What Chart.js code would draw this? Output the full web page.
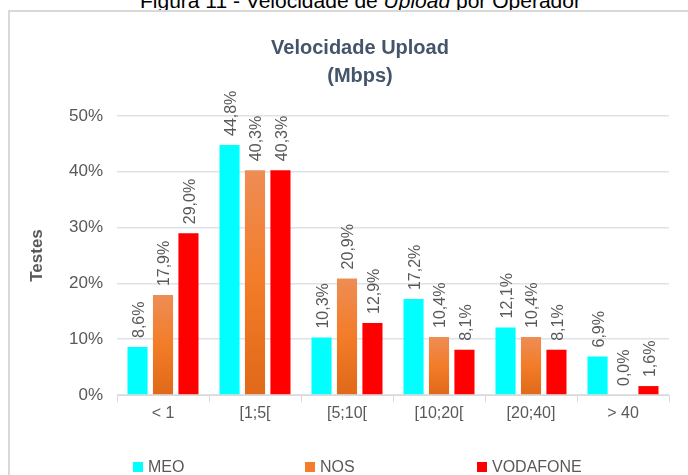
<!DOCTYPE html>
<html>
<head>
<meta charset="utf-8">
<script src="https://cdn.jsdelivr.net/npm/chart.js@4"></script>
<style>
  body { margin: 0; background: #fff; font-family: "Liberation Sans", Arial, sans-serif; }
  #wrap { position: relative; width: 688px; height: 475px; overflow: hidden; }
  #caption { position: absolute; top: -11px; left: 140px; width: 440px; text-align: center; font-size: 21px; color: #000; white-space: nowrap; }
  #frame { position: absolute; left: 8px; top: 10px; width: 700px; height: 500px; border-left: 2px solid #d9d9d9; border-top: 2px solid #d9d9d9; }
  #chart { position: absolute; left: 0; top: 0; }
  #legend { position: absolute; top: 458px; left: 0; width: 688px; font-size: 16px; color: #595959; }
  #legend span.item { position: absolute; white-space: nowrap; }
  #legend span.box { display: inline-block; width: 10px; height: 10px; margin-right: 5px; vertical-align: 0px; }
</style>
</head>
<body>
<div id="wrap">
  <div id="caption">Figura 11 - Velocidade de <i>Upload</i> por Operador</div>
  <div id="frame"></div>
  <canvas id="chart" width="688" height="475"></canvas>
  <div id="legend"></div>
</div>
<script>
const categories = ["< 1", "[1;5[", "[5;10[", "[10;20[", "[20;40]", "> 40"];
const seriesNames = ["MEO", "NOS", "VODAFONE"];
const meo = [8.6, 44.8, 10.3, 17.2, 12.1, 6.9];
const nos = [17.9, 40.3, 20.9, 10.4, 10.4, 0.0];
const vodafone = [29.0, 40.3, 12.9, 8.1, 8.1, 1.6];
const yTicks = [0, 10, 20, 30, 40, 50];

const textGray = "#595959";
const font = "'Liberation Sans', Arial, sans-serif";

function orangeFill(context) {
  const chart = context.chart;
  const y = chart.scales.y;
  if (!y || context.raw === undefined) return "#f47c2a";
  const top = y.getPixelForValue(context.raw);
  const bottom = y.getPixelForValue(0);
  if (!isFinite(top) || bottom - top < 1) return "#f47c2a";
  const g = chart.ctx.createLinearGradient(0, top, 0, bottom);
  g.addColorStop(0, "#ee8d55");
  g.addColorStop(0.5, "#f37c28");
  g.addColorStop(1, "#e0691a");
  return g;
}

// rotated value labels above each bar
const valueLabels = {
  id: "valueLabels",
  afterDatasetsDraw(chart) {
    const ctx = chart.ctx;
    ctx.save();
    ctx.fillStyle = textGray;
    ctx.font = "16px " + font;
    ctx.textAlign = "left";
    ctx.textBaseline = "middle";
    chart.data.datasets.forEach((ds, i) => {
      chart.getDatasetMeta(i).data.forEach((bar, j) => {
        const txt = ds.data[j].toFixed(1).replace(".", ",") + "%";
        ctx.save();
        ctx.translate(bar.x + 2, bar.y - 9);
        ctx.rotate(-Math.PI / 2);
        ctx.fillText(txt, 0, 0);
        ctx.restore();
      });
    });
    ctx.restore();
  }
};

const colors = ["#00ffff", "#f47c2a", "#ff0000"];

new Chart(document.getElementById("chart"), {
  type: "bar",
  data: {
    labels: categories,
    datasets: [
      { label: seriesNames[0], data: meo, backgroundColor: colors[0] },
      { label: seriesNames[1], data: nos, backgroundColor: orangeFill },
      { label: seriesNames[2], data: vodafone, backgroundColor: colors[2] }
    ]
  },
  options: {
    responsive: false,
    animation: false,
    datasets: { bar: { categoryPercentage: 0.83, barPercentage: 0.79 } },
    layout: { padding: { left: 51, right: 19, top: 0, bottom: 0 } },
    plugins: {
      legend: { display: false },
      tooltip: { enabled: false },
      title: {
        display: true,
        text: ["Velocidade Upload", "(Mbps)"],
        color: "#44546a",
        font: { family: font, size: 20, weight: "bold", lineHeight: 1.4 },
        padding: { top: 34, bottom: 26 }
      }
    },
    scales: {
      x: {
        afterFit(scale) { scale.height = 80; },
        grid: { drawOnChartArea: false, drawTicks: true, tickLength: 7, color: "#d9d9d9" },
        border: { display: true, color: "#d9d9d9" },
        ticks: { color: textGray, font: { family: font, size: 16 }, padding: 2 }
      },
      y: {
        min: 0,
        max: 50,
        afterFit(scale) { scale.width = 66; },
        afterBuildTicks(scale) { scale.ticks = yTicks.map(v => ({ value: v })); },
        grid: { color: "#dfe2e7", lineWidth: 1.5, drawTicks: false },
        border: { display: false },
        ticks: { color: textGray, font: { family: font, size: 17 }, padding: 14, callback: v => v + "%" },
        title: {
          display: true,
          text: "Testes",
          color: textGray,
          font: { family: font, size: 17, weight: "bold" },
          padding: { top: -24, bottom: 0 }
        }
      }
    }
  },
  plugins: [valueLabels]
});

const legendLeft = [133, 305, 477];
const legend = document.getElementById("legend");
seriesNames.forEach((name, i) => {
  const item = document.createElement("span");
  item.className = "item";
  item.style.left = legendLeft[i] + "px";
  const box = document.createElement("span");
  box.className = "box";
  box.style.background = colors[i];
  item.appendChild(box);
  item.appendChild(document.createTextNode(name));
  legend.appendChild(item);
});
</script>
</body>
</html>
